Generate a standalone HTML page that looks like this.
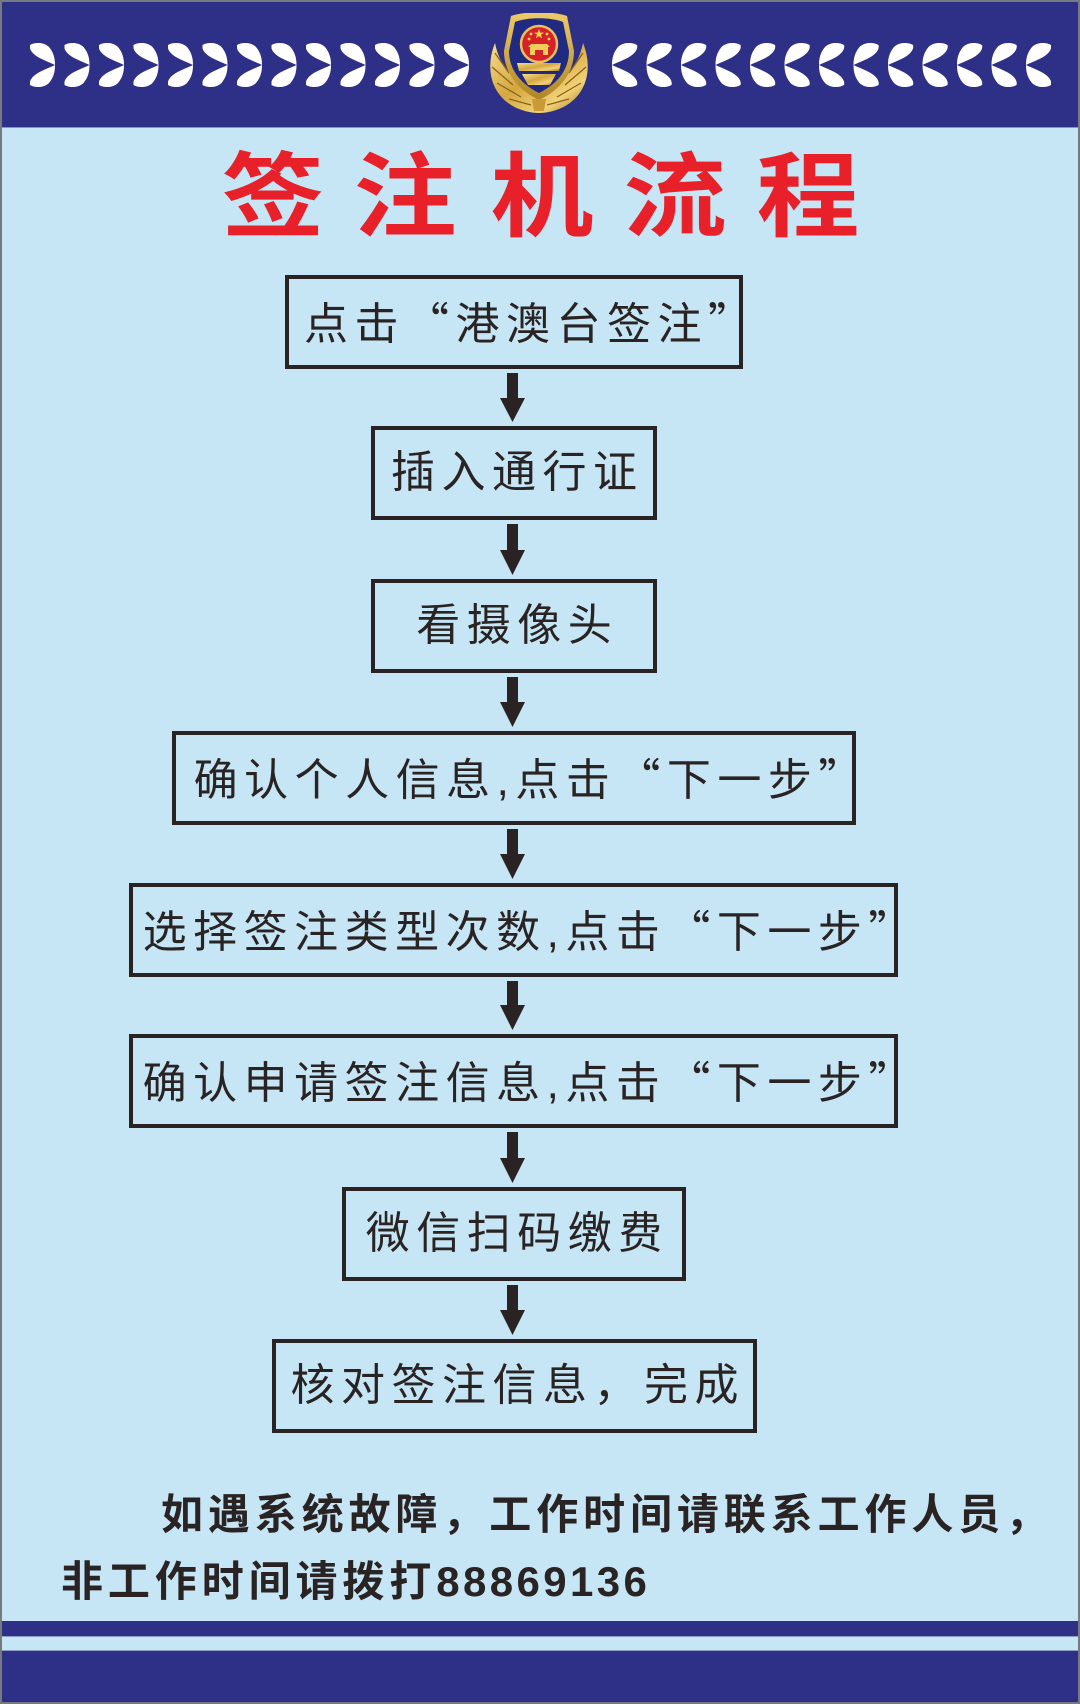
<!DOCTYPE html>
<html lang="zh-CN">
<head>
<meta charset="utf-8">
<style>
  html, body { margin:0; padding:0; }
  body {
    width:1080px; height:1704px; position:relative; overflow:hidden;
    background:#c6e6f5;
    font-family:"Liberation Sans","Noto Sans CJK SC",sans-serif;
  }
  .abs { position:absolute; }
  .banner { left:0; top:0; width:1080px; height:127px; background:#2e3087; }
  .bline { left:0; top:127px; width:1080px; height:1px; background:#8d93b8; }
  .frame { left:0; top:0; width:1080px; height:1704px; box-sizing:border-box; border:2px solid #76797d; z-index:10; }
  .tc {
    position:absolute; top:152px; width:134px; height:92px;
    font-size:92px; line-height:92px; font-weight:700; color:#e8202a;
    text-align:center; transform:scaleX(1.12);
  }
  .box {
    position:absolute; box-sizing:border-box; height:94px;
    border:4px solid #2a2323;
    display:flex; align-items:center; justify-content:center;
    font-size:44px; line-height:44px; color:#2a2323;
    letter-spacing:6.5px; padding-left:6.5px; white-space:nowrap;
  }
  .t { position:relative; white-space:nowrap; }
  .sh { left:14px; }
  .q { font-family:"Noto Sans CJK SC",sans-serif; }
  .foot {
    position:absolute; font-size:42px; line-height:42px; font-weight:700;
    color:#2a2323; letter-spacing:4.9px; white-space:nowrap;
  }
  .dig { letter-spacing:3.4px; }
</style>
</head>
<body>

<div class="abs banner"></div>
<div class="abs bline"></div>

<!-- chevrons -->
<svg class="abs" style="left:0;top:0" width="1080" height="127" viewBox="0 0 1080 127">
  <defs>
    <path id="leaf" d="M0,2 C5,-1 14,-1 19,4 C24,10 25,16 25,22 C19,19 10,16 5,12 C1,9 -1,5 0,2 Z" fill="#ffffff"/>
    <pattern id="pl" patternUnits="userSpaceOnUse" x="30" y="43" width="34.5" height="44">
      <use href="#leaf" x="0" y="0"/>
      <g transform="translate(0,44) scale(1,-1)"><use href="#leaf" x="0" y="0"/></g>
    </pattern>
    <pattern id="pr" patternUnits="userSpaceOnUse" x="612" y="43" width="34.5" height="44">
      <g transform="translate(25,0) scale(-1,1)"><use href="#leaf"/></g>
      <g transform="translate(25,44) scale(-1,-1)"><use href="#leaf"/></g>
    </pattern>
  </defs>
  <rect x="30" y="43" width="439" height="44" fill="url(#pl)"/>
  <rect x="612" y="43" width="439" height="44" fill="url(#pr)"/>
</svg>

<!-- badge -->
<svg class="abs" style="left:488px;top:13px" width="102" height="100" viewBox="0 0 100 100">
  <defs>
    <linearGradient id="gold" x1="0" y1="0" x2="1" y2="1">
      <stop offset="0" stop-color="#f7e08c"/>
      <stop offset="0.45" stop-color="#d4a640"/>
      <stop offset="0.75" stop-color="#f2d278"/>
      <stop offset="1" stop-color="#9c7420"/>
    </linearGradient>
    <linearGradient id="gold2" x1="0" y1="0" x2="0" y2="1">
      <stop offset="0" stop-color="#eccb6a"/>
      <stop offset="1" stop-color="#b08526"/>
    </linearGradient>
  </defs>
  <!-- wreath -->
  <path d="M6,30 C-3,52 0,78 22,92 C32,98 42,100 50,100 C58,100 68,98 78,92 C100,78 103,52 94,30 C90,50 80,66 50,76 C20,66 10,50 6,30 Z" fill="url(#gold)"/>
  <path d="M6,40 L20,60 M3,54 L24,72 M8,70 L32,84 M20,86 L42,92 M94,40 L80,60 M97,54 L76,72 M92,70 L68,84 M80,86 L58,92" stroke="#8a6318" stroke-width="1.3" fill="none"/>
  <!-- shield -->
  <path d="M22,3 C36,-2 64,-2 78,3 L85,38 C85,60 71,77 50,87 C29,77 15,60 15,38 Z" fill="url(#gold2)"/>
  <path d="M26,9 C38,4 62,4 74,9 L80,38 C80,57 68,71 50,80 C32,71 20,57 20,38 Z" fill="#1f2a80"/>
  <!-- emblem -->
  <circle cx="50" cy="31" r="18" fill="#d6212a" stroke="#e8c25e" stroke-width="2.5"/>
  <polygon points="50,16 51.3,19.6 55,19.6 52,21.8 53.1,25.4 50,23.2 46.9,25.4 48,21.8 45,19.6 48.7,19.6" fill="#f5d34a"/>
  <circle cx="42" cy="21" r="1.4" fill="#f5d34a"/>
  <circle cx="58" cy="21" r="1.4" fill="#f5d34a"/>
  <circle cx="40" cy="26" r="1.4" fill="#f5d34a"/>
  <circle cx="60" cy="26" r="1.4" fill="#f5d34a"/>
  <path d="M39,34 L61,34 L58,31 L42,31 Z" fill="#f0cc5a"/>
  <rect x="41" y="34" width="18" height="8" fill="#f0cc5a"/>
  <rect x="46" y="37" width="8" height="5" fill="#d6212a"/>
  <path d="M28,50 L72,50 L70,58 L30,58 Z" fill="url(#gold)"/>
  <path d="M33,61 L67,61 L61,72 L39,72 Z" fill="url(#gold)"/>
  <path d="M43,86 L57,86 L55,98 L45,98 Z" fill="#c99a35"/>
</svg>

<!-- title -->
<div class="tc" style="left:205.5px">签</div>
<div class="tc" style="left:338px">注</div>
<div class="tc" style="left:474.5px">机</div>
<div class="tc" style="left:607.5px">流</div>
<div class="tc" style="left:741px">程</div>

<!-- boxes -->
<div class="box" style="left:285px;top:275px;width:458px;"><span class="t sh">点击<span class="q">“</span>港澳台签注<span class="q">”</span></span></div>
<div class="box" style="left:371px;top:426px;width:286px;"><span class="t">插入通行证</span></div>
<div class="box" style="left:371px;top:579px;width:286px;"><span class="t">看摄像头</span></div>
<div class="box" style="left:172px;top:731px;width:684px;"><span class="t sh">确认个人信息,点击<span class="q">“</span>下一步<span class="q">”</span></span></div>
<div class="box" style="left:129px;top:883px;width:769px;"><span class="t sh">选择签注类型次数,点击<span class="q">“</span>下一步<span class="q">”</span></span></div>
<div class="box" style="left:129px;top:1034px;width:769px;"><span class="t sh">确认申请签注信息,点击<span class="q">“</span>下一步<span class="q">”</span></span></div>
<div class="box" style="left:342px;top:1187px;width:344px;"><span class="t">微信扫码缴费</span></div>
<div class="box" style="left:272px;top:1339px;width:485px;"><span class="t">核对签注信息，完成</span></div>

<!-- arrows -->
<svg class="abs" style="left:0;top:0" width="1080" height="1704" viewBox="0 0 1080 1704">
  <g fill="#2a2323">
    <rect x="507" y="373" width="11" height="26"/><polygon points="500,398 525,398 512.5,422"/>
    <rect x="507" y="524" width="11" height="27"/><polygon points="500,550 525,550 512.5,575"/>
    <rect x="507" y="677" width="11" height="26"/><polygon points="500,702 525,702 512.5,727"/>
    <rect x="507" y="829" width="11" height="26"/><polygon points="500,854 525,854 512.5,879"/>
    <rect x="507" y="981" width="11" height="25"/><polygon points="500,1005 525,1005 512.5,1030"/>
    <rect x="507" y="1132" width="11" height="27"/><polygon points="500,1158 525,1158 512.5,1183"/>
    <rect x="507" y="1285" width="11" height="26"/><polygon points="500,1310 525,1310 512.5,1335"/>
  </g>
</svg>

<!-- footer text -->
<div class="foot" style="left:161px;top:1494px;">如遇系统故障，工作时间请联系工作人员，</div>
<div class="foot" style="left:61px;top:1561px;">非工作时间请拨打<span class="dig">88869136</span></div>

<!-- bottom stripes -->
<div class="abs" style="left:0;top:1621px;width:1080px;height:15px;background:#2e3087;"></div>
<div class="abs" style="left:0;top:1636px;width:1080px;height:1px;background:#8d9ac4;"></div>
<div class="abs" style="left:0;top:1651px;width:1080px;height:53px;background:#2e3087;"></div>
<div class="abs" style="left:0;top:1650px;width:1080px;height:1px;background:#8d9ac4;"></div>

<div class="abs frame"></div>
</body>
</html>
